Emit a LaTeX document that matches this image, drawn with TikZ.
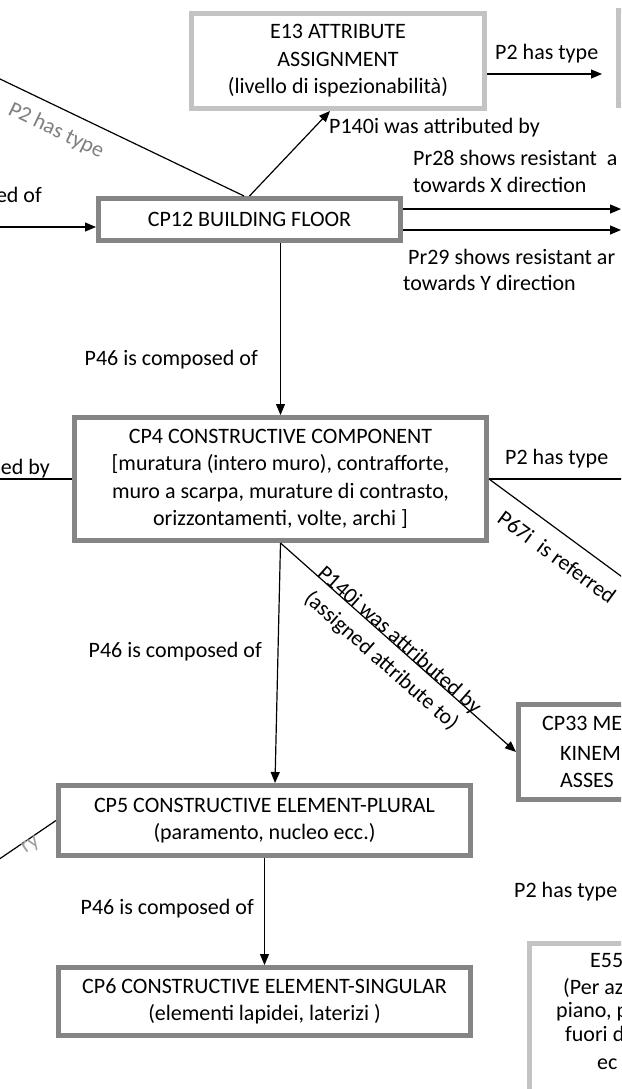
\documentclass[tikz,border=0pt]{standalone}
\usepackage{fontspec}
\setmainfont{Carlito}
\usetikzlibrary{arrows.meta,calc}
\definecolor{boxdark}{HTML}{858585}
\definecolor{boxlight}{HTML}{C3C3C3}
\definecolor{labgray}{HTML}{7F7F7F}
\definecolor{labgraylight}{HTML}{A0A0A0}
\begin{document}
\begin{tikzpicture}[x=1pt,y=-1pt,
  every node/.style={font=\fontsize{22}{27.5}\selectfont, inner sep=0pt},
  dbox/.style={draw=boxdark, line width=5pt, fill=white, align=center},
  lbox/.style={draw=boxlight, line width=5pt, fill=white, align=center},
  conn/.style={line width=1.2pt, black},
  arr/.style={conn, -{Triangle[length=11pt,width=9pt]}},
  lw/.style={anchor=base west},
  le/.style={anchor=base east},
  glab/.style={text=labgray},
  glab2/.style={text=labgraylight}]
\useasboundingbox (0,0) rectangle (621,1089);
\clip (0,0) rectangle (621,1089);
\fill[white] (0,0) rectangle (621,1089);

% boxes
\node[lbox, minimum width=293pt, minimum height=95pt] (E13) at (338,61) {E13 ATTRIBUTE\\ASSIGNMENT\\(livello di ispezionabilità)};
\node[lbox, minimum width=200pt, minimum height=95pt] (TR) at (718.5,58) {};
\node[dbox, minimum width=302pt, minimum height=42pt] (CP12) at (249.5,219.5) {CP12 BUILDING FLOOR};
\node[dbox, minimum width=412pt, minimum height=123pt] (CP4) at (280.5,479) {CP4 CONSTRUCTIVE COMPONENT\\{[}muratura (intero muro), contrafforte,\\muro a scarpa, murature di contrasto,\\orizzontamenti, volte, archi {]}};
\node[dbox, minimum width=250pt, minimum height=95pt] (CP33) at (643.5,752) {};
\node[dbox, minimum width=412pt, minimum height=70pt] (CP5) at (264.5,820.5) {CP5 CONSTRUCTIVE ELEMENT-PLURAL\\(paramento, nucleo ecc.)};
\node[dbox, minimum width=412pt, minimum height=68pt] (CP6) at (264.5,1001.5) {CP6 CONSTRUCTIVE ELEMENT-SINGULAR\\(elementi lapidei, laterizi )};
\node[lbox, minimum width=250pt, minimum height=200pt] (E55) at (654.5,1043.5) {};

% texts of the cut boxes
\node[lw] (t33a) at (542,730) {CP33 ME};
\node[lw] (t33b) at (560,760) {KINEM};
\node[lw] (t33c) at (560,787) {ASSES};
\node[lw] (t55a) at (590,967) {E55};
\node[lw] (t55b) at (563,994) {(Per az};
\node[lw] (t55c) at (556,1017) {piano, p};
\node[lw] (t55d) at (565,1041) {fuori d};
\node[lw] (t55e) at (597,1069) {ec};

% free ends
\coordinate (L1) at (-20,69.4);
\coordinate (L2) at (-5,227);
\coordinate (L3) at (-5,479);
\coordinate (L4) at (-10,865.4);
\coordinate (R1) at (621,209);
\coordinate (R2) at (621,230);
\coordinate (R3) at (630,479);
\coordinate (R4) at (680,619.5);

% connectors
\draw[arr, shorten >=14pt] ([yshift=-13pt]E13.east) -- ([yshift=-13pt]E13.east -| TR.west);
\draw[arr] (CP12.north) -- ([xshift=-8pt]E13.south);
\draw[conn] ([xshift=-5.5pt]CP12.north) -- (L1);
\draw[arr] (L2) -- (L2 -| CP12.west);
\draw[arr] (CP12.east |- R1) -- (R1);
\draw[arr] (CP12.east |- R2) -- (R2);
\draw[arr] (CP12.south -| CP4.north) -- (CP4.north);
\draw[conn] (L3) -- (CP4.west);
\draw[conn] (CP4.east) -- (R3);
\draw[conn] (CP4.east) -- (R4);
\draw[arr] (CP4.south) -- ([xshift=10.5pt]CP5.north);
\draw[arr] (CP4.south) -- (CP33.west);
\draw[arr] (CP5.south) -- (CP6.north);
\draw[conn] (CP5.west) -- (L4);

% labels
\node[lw] (l1) at (495,60) {P2 has type};
\node[lw] (l2) at (329,134) {P140i was attributed by};
\node[lw] (l3) at (413,165) {Pr28 shows resistant\ \ a};
\node[lw] (l4) at (413,192) {towards X direction};
\node[lw] (l5) at (408,264) {Pr29 shows resistant ar};
\node[lw] (l6) at (403,290) {towards Y direction};
\node[le] (l7) at (258,365) {P46 is composed of};
\node[le] (l8) at (42,202) {ed of};
\node[le] (l9) at (50,474) {ed by};
\node[lw] (l10) at (505,464) {P2 has type};
\node[le] (l11) at (262,657) {P46 is composed of};
\node[le] (l12) at (254,914) {P46 is composed of};
\node[lw] (l13) at (514,897) {P2 has type};
\node[glab, rotate=-25.6] (l14) at (56,131) {P2 has type};
\node[rotate=-36.3] (l15) at (557,557) {P67i\ \ is referred};
\node[rotate=-41.5, align=center] (l16) at (390,651) {P140i was attributed by\\(assigned attribute to)};
\node[glab2, rotate=34] (l17) at (31,846) {ry};
\end{tikzpicture}
\end{document}
